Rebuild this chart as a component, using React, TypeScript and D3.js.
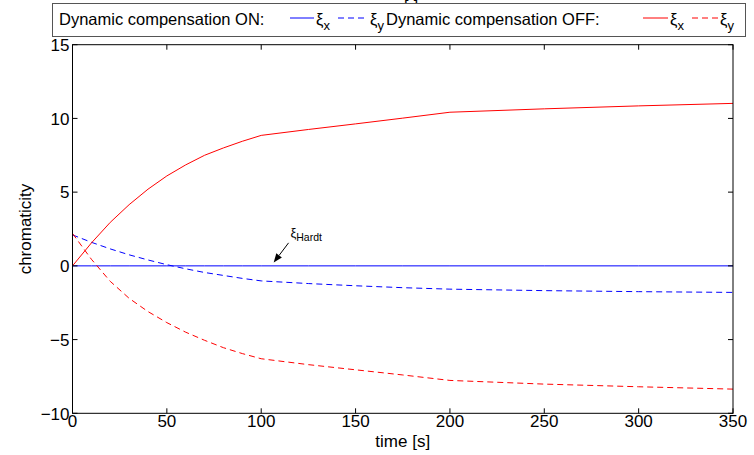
import React from "react";
import * as d3 from "d3";

const time = [0, 10, 20, 30, 40, 50, 60, 70, 80, 90, 100, 125, 150, 175, 200, 250, 300, 350];
const onXiX = [0, 0, 0, 0, 0, 0, 0, 0, 0, 0, 0, 0, 0, 0, 0, 0, 0, 0];
const onXiY = [2.1, 1.6, 1.15, 0.75, 0.4, 0.08, -0.2, -0.45, -0.65, -0.85, -1.02, -1.2, -1.35, -1.48, -1.58, -1.68, -1.75, -1.8];
const offXiX = [0, 1.55, 2.95, 4.15, 5.2, 6.1, 6.85, 7.5, 8.0, 8.45, 8.85, 9.25, 9.63, 10.02, 10.42, 10.65, 10.85, 11.02];
const offXiY = [2.2, 0.45, -1.05, -2.2, -3.1, -3.85, -4.5, -5.05, -5.55, -5.95, -6.3, -6.7, -7.05, -7.4, -7.77, -8.02, -8.2, -8.36];

const xTicks = [0, 50, 100, 150, 200, 250, 300, 350];
const yTicks = [-10, -5, 0, 5, 10, 15];

// annotation (data coordinates)
const arrowTail = [114.5, 1.56];
const arrowTip = [106.6, 0.22];
const annoText = [115.5, 1.95];

const FONT = "'Liberation Sans', Arial, Helvetica, sans-serif";

export default function App() {
  const W = 754, H = 455;
  const x = d3.scaleLinear().domain([0, 350]).range([72.5, 733]);
  const y = d3.scaleLinear().domain([-10, 15]).range([413.3, 44.7]);
  const [x0, x1] = x.range();
  const [y0, y1] = y.range();

  const mk = (vals: number[]) =>
    d3.line<number>().x((_, i) => x(time[i])).y((d) => y(d)).curve(d3.curveLinear)(vals) || "";

  const series = [
    { vals: onXiX, color: "#0000ff", dash: undefined },
    { vals: onXiY, color: "#0000ff", dash: "6,4" },
    { vals: offXiX, color: "#ff0000", dash: undefined },
    { vals: offXiY, color: "#ff0000", dash: "6,4" },
  ];

  // arrow
  const tx = x(arrowTail[0]), ty = y(arrowTail[1]);
  const hx = x(arrowTip[0]), hy = y(arrowTip[1]);
  const ang = Math.atan2(hy - ty, hx - tx);
  const hl = 9, hw = 3.5;
  const bx = hx - hl * Math.cos(ang), by = hy - hl * Math.sin(ang);
  const head = [
    [hx, hy],
    [bx + hw * Math.sin(ang), by - hw * Math.cos(ang)],
    [bx - hw * Math.sin(ang), by + hw * Math.cos(ang)],
  ];

  const legY = 18;
  const legBase = 25;

  return (
    <svg width={W} height={H} style={{ position: "absolute", left: 0, top: 0, background: "#fff" }} fontFamily={FONT}>
      <rect x={0} y={0} width={W} height={H} fill="#fff" />
      {/* partially hidden title */}
      <text x={411} y={12} fontSize={16} textAnchor="middle" fill="#000">[·]</text>

      {/* series */}
      <g clipPath="url(#clip)">
        {series.map((s, i) => (
          <path key={i} d={mk(s.vals)} fill="none" stroke={s.color} strokeWidth={1} strokeDasharray={s.dash} />
        ))}
      </g>
      <defs>
        <clipPath id="clip">
          <rect x={x0} y={y1} width={x1 - x0} height={y0 - y1} />
        </clipPath>
      </defs>

      {/* box */}
      <rect x={x0} y={y1} width={x1 - x0} height={y0 - y1} fill="none" stroke="#000" strokeWidth={1} />

      {/* ticks */}
      {xTicks.map((t) => (
        <g key={"x" + t}>
          <line x1={x(t)} x2={x(t)} y1={y0} y2={y0 - 5} stroke="#000" />
          <line x1={x(t)} x2={x(t)} y1={y1} y2={y1 + 5} stroke="#000" />
          <text x={x(t)} y={y0 + 13.5} fontSize={17} textAnchor="middle" fill="#000">{t}</text>
        </g>
      ))}
      {yTicks.map((t) => (
        <g key={"y" + t}>
          <line x1={x0} x2={x0 + 5} y1={y(t)} y2={y(t)} stroke="#000" />
          <line x1={x1} x2={x1 - 5} y1={y(t)} y2={y(t)} stroke="#000" />
          <text x={x0 - 3} y={y(t) + 6.3} fontSize={17} textAnchor="end" fill="#000">{t < 0 ? "\u2212" + Math.abs(t) : t}</text>
        </g>
      ))}

      {/* axis labels */}
      <text x={(x0 + x1) / 2} y={447} fontSize={17} textAnchor="middle" fill="#000">time [s]</text>
      <text transform={`translate(31,${(y0 + y1) / 2}) rotate(-90)`} fontSize={17} textAnchor="middle" fill="#000">chromaticity</text>

      {/* annotation */}
      <line x1={tx} y1={ty} x2={bx} y2={by} stroke="#000" strokeWidth={1} />
      <polygon points={head.map((p) => p.join(",")).join(" ")} fill="#000" />
      <text x={x(annoText[0])} y={y(annoText[1])} fontSize={13} fill="#000">
        ξ<tspan fontSize={10.5} dy={4}>Hardt</tspan>
      </text>

      {/* legend */}
      <rect x={52.5} y={3.5} width={693} height={33} fill="#fff" stroke="#555" strokeWidth={1} />
      <text x={59} y={legBase} fontSize={16.5} fill="#000">Dynamic compensation ON:</text>
      <line x1={290} x2={314} y1={legY} y2={legY} stroke="#0000ff" />
      <text x={316} y={legBase} fontSize={16.5} fill="#000">ξ<tspan fontSize={13} dy={5}>x</tspan></text>
      <line x1={338} x2={368} y1={legY} y2={legY} stroke="#0000ff" strokeDasharray="6,4" />
      <text x={370} y={legBase} fontSize={16.5} fill="#000">ξ<tspan fontSize={13} dy={5}>y</tspan></text>
      <text x={386} y={legBase} fontSize={16.5} fill="#000">Dynamic compensation OFF:</text>
      <line x1={643} x2={668} y1={legY} y2={legY} stroke="#ff0000" />
      <text x={670} y={legBase} fontSize={16.5} fill="#000">ξ<tspan fontSize={13} dy={5}>x</tspan></text>
      <line x1={692} x2={718} y1={legY} y2={legY} stroke="#ff0000" strokeDasharray="6,4" />
      <text x={720} y={legBase} fontSize={16.5} fill="#000">ξ<tspan fontSize={13} dy={5}>y</tspan></text>
    </svg>
  );
}
